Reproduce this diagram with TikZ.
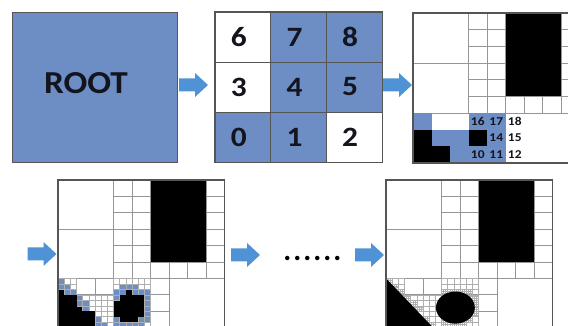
\documentclass[tikz,border=0pt]{standalone}
\usepackage{fontspec}
\setmainfont{Carlito}
\usepackage{graphicx}
\usetikzlibrary{calc}
\definecolor{cellblue}{RGB}{108,142,196}
\definecolor{arrowblue}{RGB}{79,146,214}
\definecolor{gridgray}{RGB}{150,150,150}
\definecolor{finegray}{RGB}{175,175,175}
\definecolor{edgegray}{RGB}{85,85,85}
\definecolor{txt}{RGB}{20,20,30}
\tikzset{
  unitline/.style={draw=gridgray, line width=0.6pt},
  fineline/.style={draw=finegray, line width=0.35pt},
  finerline/.style={draw=finegray, line width=0.25pt},
  panelborder/.style={draw=edgegray, line width=1.2pt},
  arrowfill/.style={fill=arrowblue},
  rootbox/.style={draw=edgegray, fill=cellblue, line width=0.8pt, minimum width=165pt, minimum height=150pt, inner sep=0pt},
  roottext/.style={font=\bfseries\fontsize{32}{34}\selectfont, text=txt, inner sep=0pt},
  gridcell/.style={draw=edgegray, line width=0.5pt, minimum width=55.667pt, minimum height=50pt, inner sep=0pt},
  bignum/.style={font=\bfseries\fontsize{28}{30}\selectfont, text=txt, inner sep=0pt},
  smallnum/.style={font=\bfseries\fontsize{12}{13}\selectfont, text=txt, inner sep=0pt},
  dotstext/.style={font=\bfseries\fontsize{30}{32}\selectfont, text=black, inner sep=0pt},
}
\newcommand{\blockarrow}[1]{%
  \fill[arrowfill] ($(#1)+(0,6.5)$) -- ++(16,0) -- ++(0,5.5) -- ++(13,-12) -- ++(-13,-12) -- ++(0,5.5) -- ++(-16,0) -- cycle;}
\newcommand{\ellcx}{3.85}
\newcommand{\ellcy}{1.3}
\newcommand{\ellrx}{1.05}
\newcommand{\ellry}{1.15}
\newcommand{\triX}{2.5}
\newcommand{\classtri}[2]{%
  \pgfmathsetmacro\mygmin{(#1)/\triX+(#2)/3-1}%
  \pgfmathsetmacro\mygmax{((#1)+1/3)/\triX+((#2)+1/3)/3-1}%
  \pgfmathtruncatemacro\mycls{ifthenelse(\mygmax<=0,1,ifthenelse(\mygmin>=0,0,2))}}
\newcommand{\classell}[2]{%
  \pgfmathsetmacro\myqx{max(#1,min(\ellcx,(#1)+1/3))}%
  \pgfmathsetmacro\myqy{max(#2,min(\ellcy,(#2)+1/3))}%
  \pgfmathsetmacro\myux{(\myqx-\ellcx)/\ellrx}%
  \pgfmathsetmacro\myuy{(\myqy-\ellcy)/\ellry}%
  \pgfmathsetmacro\myfmin{\myux*\myux+\myuy*\myuy}%
  \pgfmathsetmacro\myex{max(abs((#1)-\ellcx),abs((#1)+1/3-\ellcx))/\ellrx}%
  \pgfmathsetmacro\myey{max(abs((#2)-\ellcy),abs((#2)+1/3-\ellcy))/\ellry}%
  \pgfmathsetmacro\myfmax{\myex*\myex+\myey*\myey}%
  \pgfmathtruncatemacro\mycls{ifthenelse(\myfmax<=1,1,ifthenelse(\myfmin>=1,0,2))}}
\newcommand{\classify}[3]{\ifnum#3=0 \classtri{#1}{#2}\else\classell{#1}{#2}\fi}
% common structure of the refined panels (panel units 0..9)
\newcommand{\panelcommon}{%
  \fill[white] (0,0) rectangle (9,9);
  \foreach \k in {3,...,9} {\draw[unitline] (\k,3) -- (\k,9); \draw[unitline] (3,\k) -- (9,\k);}
  \draw[unitline] (0,6) -- (3,6);
  \draw[unitline] (0,3) -- (3,3);
  \fill[black] (5,4) rectangle (8,9);}
\newcommand{\bottomunitlines}{%
  \foreach \k in {1,2} {\draw[unitline] (\k,0) -- (\k,3); \draw[unitline] (3+\k,0) -- (3+\k,3); \draw[unitline] (0,\k) -- (6,\k);}
  \draw[unitline] (3,0) -- (3,3); \draw[unitline] (6,0) -- (6,3);}
\newcommand{\subcells}{0/2/0,1/1/0,2/1/0,2/0/0,3/2/1,4/2/1,3/1/1,4/1/1,3/0/1,4/0/1}
\newcommand{\spdot}{\makebox[10pt]{.}}
\begin{document}
\begin{tikzpicture}[x=1pt,y=1pt]
\useasboundingbox (0,0) rectangle (568,326);
\clip (0,0) rectangle (568,326);
\fill[white] (0,0) rectangle (568,326);

% ROOT
\node[rootbox] (root) at (94.5,239) {};
\node[roottext] (rootlabel) at (86,242.5) {\scalebox{1.1}[1]{ROOT}};

% 3x3 grid
\foreach \n/\col/\row/\fc in {6/0/0/white,7/1/0/cellblue,8/2/0/cellblue,3/0/1/white,4/1/1/cellblue,5/2/1/cellblue,0/0/2/cellblue,1/1/2/cellblue,2/2/2/white}{
  \node[gridcell, fill=\fc] (g\n) at ({215+55.667*(\col+0.5)},{314-50*(\row+0.5)}) {};
  \node[bignum] (n\n) at ($(g\n.center)+(-4,0)$) {\scalebox{1.12}[1]{\n}};
}
\draw[edgegray, line width=1pt] (g6.north west) rectangle (g2.south east);

% arrows
\coordinate (a1) at (179,241);
\coordinate (a2) at (383,241);
\coordinate (a3) at (27.5,72);
\coordinate (a4) at (231,71);
\coordinate (a5) at (355,71);
\blockarrow{a1}
\blockarrow{a2}
\blockarrow{a3}
\blockarrow{a4}
\blockarrow{a5}

% dots
\node[dotstext] (dots) at (312.5,68) {\spdot\spdot\spdot\spdot\spdot\spdot};

% panel 3 (level 2)
\begin{scope}[shift={(413,163)}, x=18.5pt, y=16.667pt]
  \panelcommon
  \foreach \ux/\uy/\fc in {0/2/cellblue,0/1/black,1/1/cellblue,2/1/cellblue,0/0/black,1/0/black,2/0/cellblue,3/2/cellblue,4/2/cellblue,3/1/black,4/1/cellblue,3/0/cellblue,4/0/cellblue}{
    \fill[\fc] (\ux,\uy) rectangle ++(1,1);
  }
  \foreach \lab/\ux/\uy in {16/3/2,17/4/2,18/5/2,14/4/1,15/5/1,10/3/0,11/4/0,12/5/0}{
    \node[smallnum] (l\lab) at (\ux+0.5,\uy+0.5) {\scalebox{1.12}[1]{\lab}};
  }
  \draw[panelborder] (0,0) rectangle (9,9);
\end{scope}

% panel 5 (level 3)
\begin{scope}[shift={(58,-1.6)}, x=18.5pt, y=16.4pt]
  \panelcommon
  \bottomunitlines
  \foreach \ux/\uy/\m in \subcells {
    \foreach \i in {0,1,2}{\foreach \j in {0,1,2}{
      \pgfmathsetmacro\myfx{\ux+\i/3}\pgfmathsetmacro\myfy{\uy+\j/3}
      \classify{\myfx}{\myfy}{\m}
      \ifcase\mycls
        \draw[fineline] (\myfx,\myfy) rectangle ++(1/3,1/3);
      \or
        \fill[black] (\myfx,\myfy) rectangle ++(1/3+0.01,1/3+0.01);
      \or
        \filldraw[fill=cellblue, fineline] (\myfx,\myfy) rectangle ++(1/3,1/3);
      \fi
    }}
  }
  \fill[black] (0,0) rectangle (2,1);
  \fill[black] (0,1) rectangle (1,2);
  \draw[panelborder] (0,0) rectangle (9,9);
\end{scope}

% panel 6 (final)
\renewcommand{\ellcx}{3.75}
\renewcommand{\ellcy}{1.22}
\renewcommand{\ellrx}{1.05}
\renewcommand{\ellry}{0.98}
\renewcommand{\triX}{2.55}
\begin{scope}[shift={(386,-1.6)}, x=18.5pt, y=16.4pt]
  \panelcommon
  \bottomunitlines
  \foreach \ux/\uy/\m in \subcells {
    \foreach \i in {0,1,2}{\foreach \j in {0,1,2}{
      \pgfmathsetmacro\myfx{\ux+\i/3}\pgfmathsetmacro\myfy{\uy+\j/3}
      \classify{\myfx}{\myfy}{\m}
      \draw[fineline] (\myfx,\myfy) rectangle ++(1/3,1/3);
      \ifnum\mycls=2
        \foreach \k in {1,2}{\draw[finerline] (\myfx+\k/9,\myfy) -- ++(0,1/3); \draw[finerline] (\myfx,\myfy+\k/9) -- ++(1/3,0);}
      \fi
    }}
  }
  \fill[black] (0,3) -- (\triX,0) -- (0,0) -- cycle;
  \fill[black] (\ellcx,\ellcy) ellipse [x radius=\ellrx, y radius=\ellry];
  \draw[panelborder] (0,0) rectangle (9,9);
\end{scope}
\end{tikzpicture}
\end{document}
